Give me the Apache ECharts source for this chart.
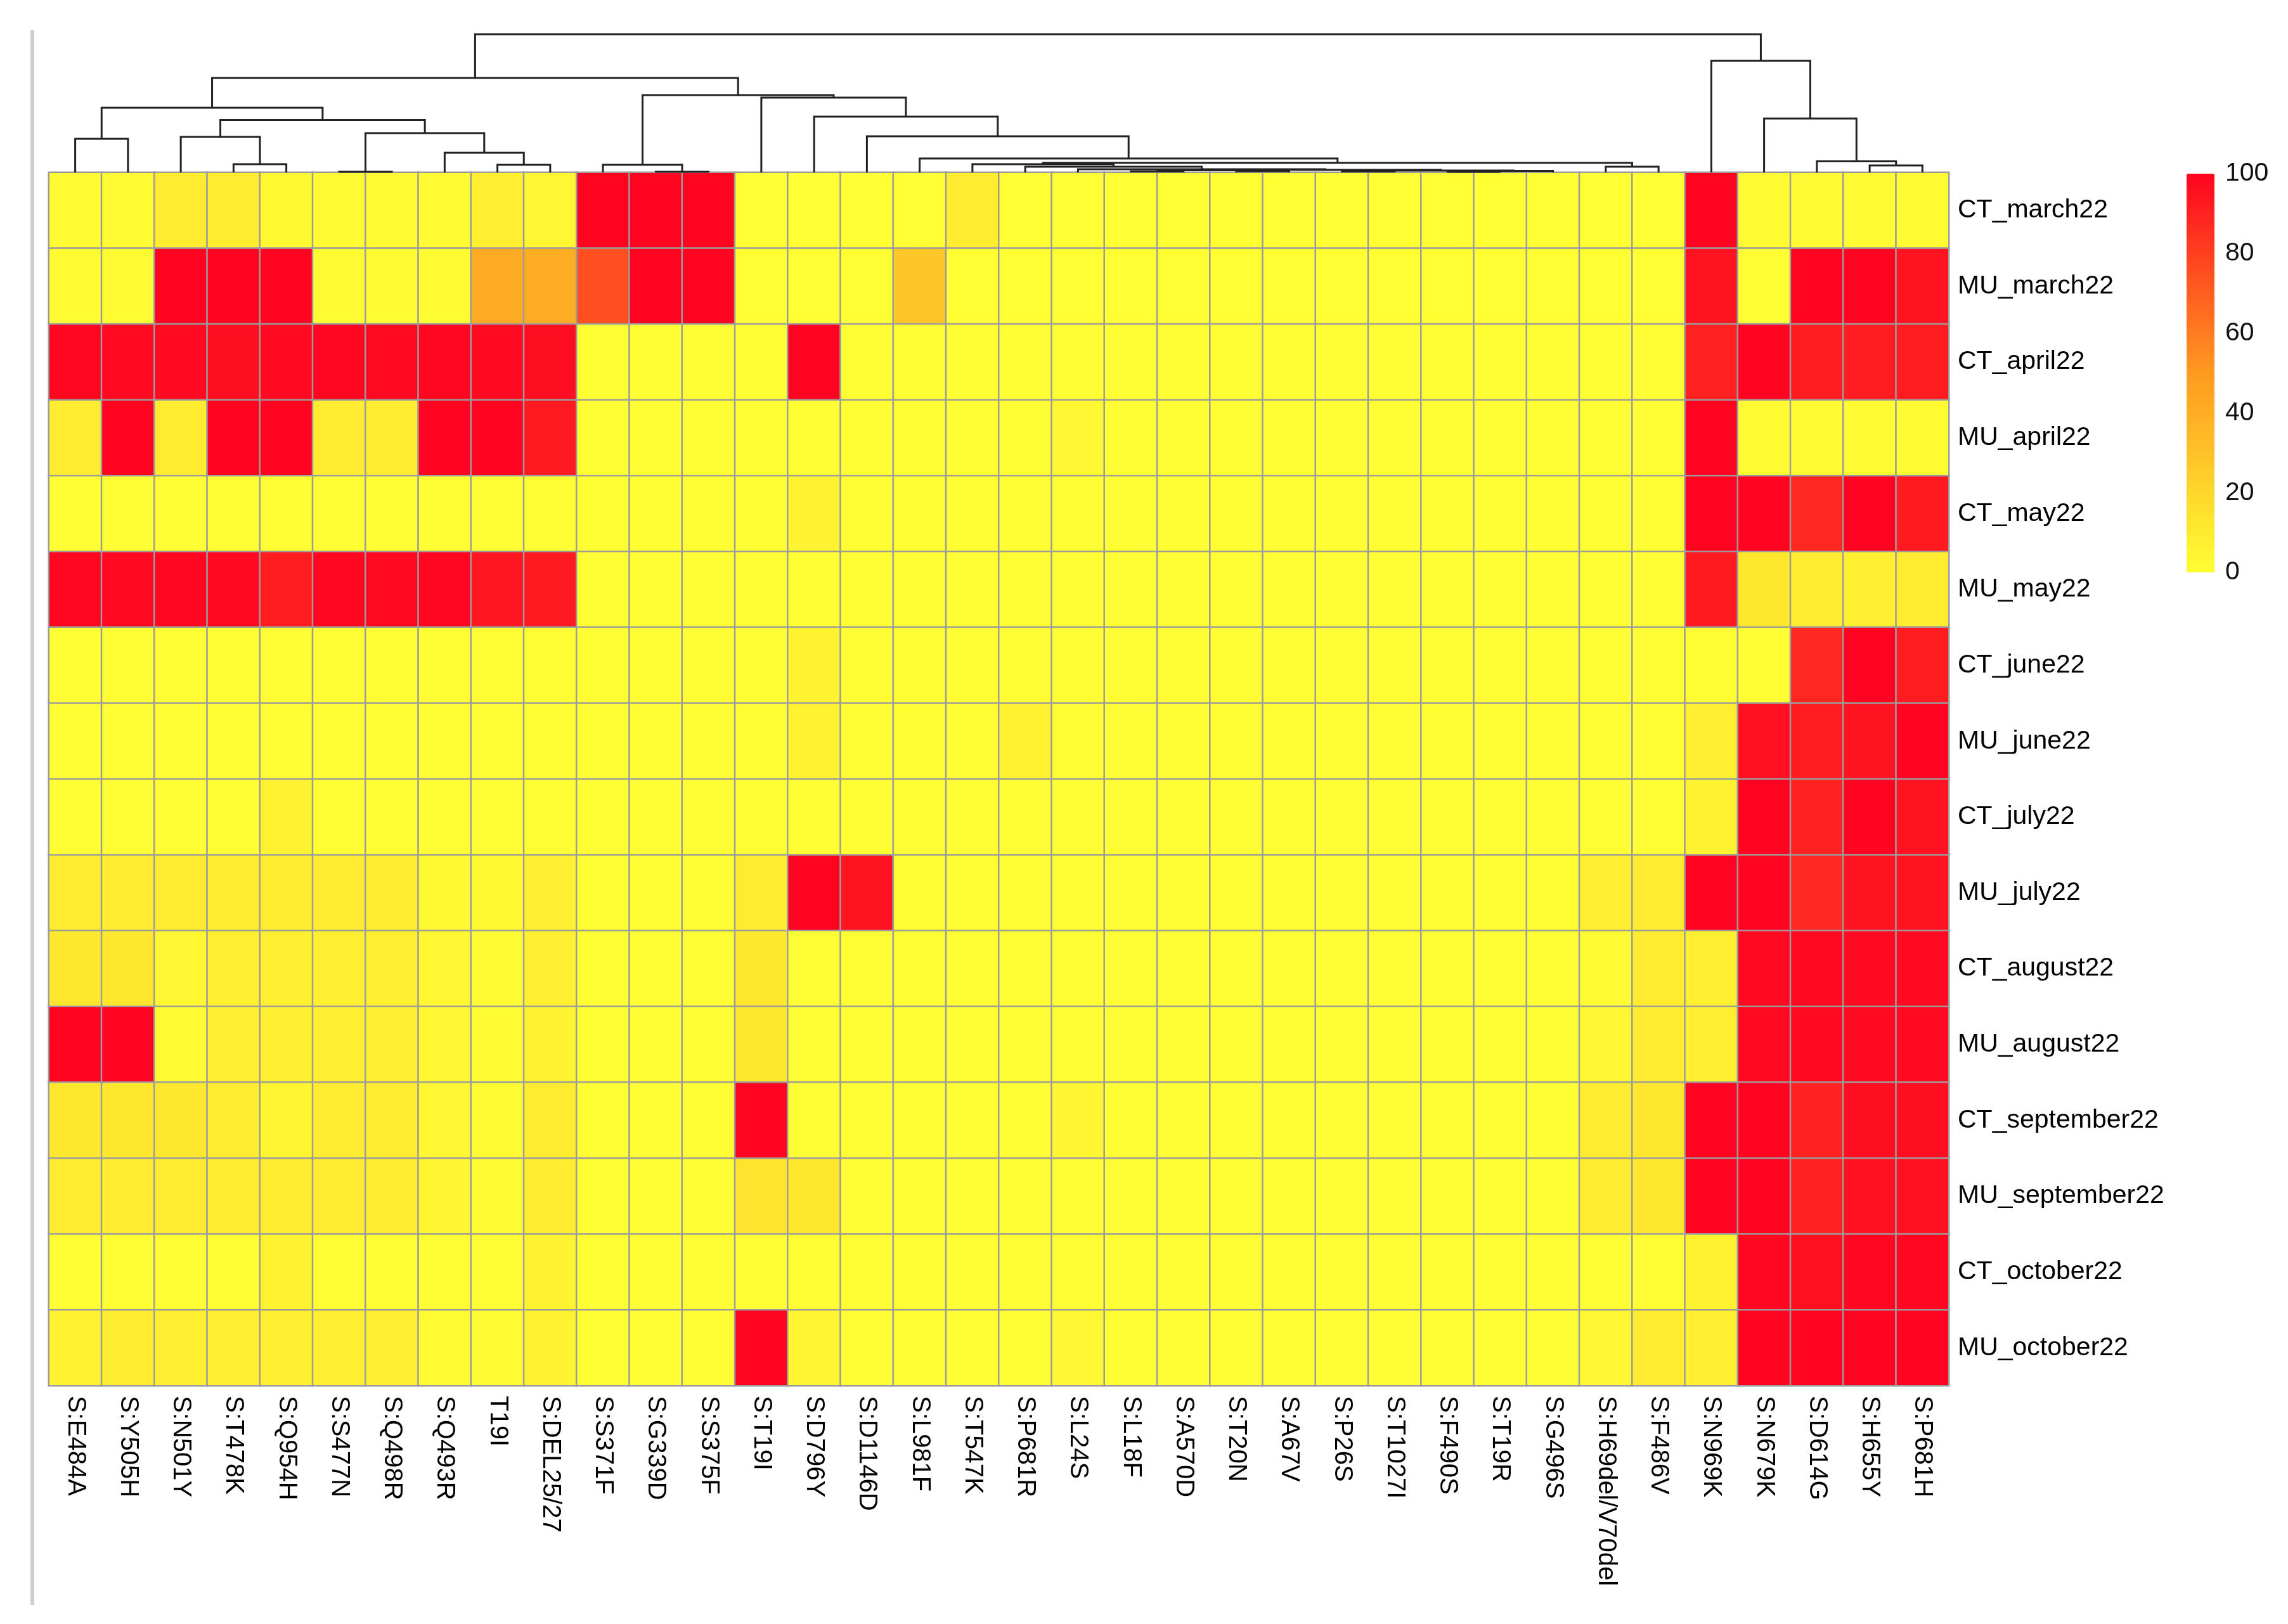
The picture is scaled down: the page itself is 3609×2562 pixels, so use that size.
<!DOCTYPE html>
<html>
<head>
<meta charset="utf-8">
<title>Spike mutation heatmap</title>
<script src="https://cdn.jsdelivr.net/npm/echarts@6.0.0/dist/echarts.min.js"></script>
<style>
  html, body { margin: 0; padding: 0; background: #fff; }
  #chart { width: 3609px; height: 2562px; }
</style>
</head>
<body>
<div id="chart"></div>
<script>
// Mutations (columns, in dendrogram order)
const mutations = [
  'S:E484A', 'S:Y505H', 'S:N501Y', 'S:T478K', 'S:Q954H', 'S:S477N', 'S:Q498R', 'S:Q493R',
  'T19I', 'S:DEL25/27', 'S:S371F', 'S:G339D', 'S:S375F', 'S:T19I', 'S:D796Y', 'S:D1146D',
  'S:L981F', 'S:T547K', 'S:P681R', 'S:L24S', 'S:L18F', 'S:A570D', 'S:T20N', 'S:A67V',
  'S:P26S', 'S:T1027I', 'S:F490S', 'S:T19R', 'S:G496S', 'S:H69del/V70del', 'S:F486V',
  'S:N969K', 'S:N679K', 'S:D614G', 'S:H655Y', 'S:P681H'
];

// Samples (rows, top to bottom)
const samples = [
  'CT_march22', 'MU_march22', 'CT_april22', 'MU_april22', 'CT_may22', 'MU_may22',
  'CT_june22', 'MU_june22', 'CT_july22', 'MU_july22', 'CT_august22', 'MU_august22',
  'CT_september22', 'MU_september22', 'CT_october22', 'MU_october22'
];

// Frequency (%) of each mutation per sample, one array per row
const frequencies = [
  [2, 2, 10, 10, 3, 2, 2, 2, 8, 4, 100, 100, 100, 0, 0, 0, 0, 10, 0, 0, 0, 0, 0, 0, 0, 0, 0, 0, 0, 0, 0, 100, 2, 2, 2, 2],
  [2, 2, 100, 100, 100, 2, 2, 2, 42, 40, 75, 100, 100, 0, 0, 0, 28, 0, 0, 0, 0, 0, 0, 0, 0, 0, 0, 0, 0, 0, 0, 95, 1, 100, 100, 95],
  [99, 98, 98, 97, 98, 99, 98, 99, 98, 97, 1, 1, 1, 1, 100, 1, 1, 1, 1, 1, 1, 1, 1, 1, 1, 1, 1, 1, 1, 1, 1, 90, 100, 92, 92, 92],
  [10, 100, 10, 100, 100, 10, 10, 100, 100, 93, 1, 1, 1, 1, 1, 1, 1, 1, 1, 4, 1, 1, 1, 1, 1, 1, 1, 1, 1, 1, 1, 100, 2, 2, 2, 2],
  [1, 1, 1, 1, 1, 1, 1, 1, 1, 1, 1, 1, 1, 1, 6, 1, 1, 1, 1, 1, 1, 1, 1, 1, 1, 1, 1, 1, 1, 1, 1, 100, 100, 88, 100, 93],
  [99, 98, 99, 98, 92, 99, 98, 99, 94, 93, 1, 1, 1, 1, 1, 1, 1, 1, 1, 1, 1, 1, 1, 1, 1, 1, 1, 1, 1, 1, 1, 93, 12, 10, 8, 10],
  [1, 1, 1, 1, 1, 1, 1, 1, 1, 1, 1, 1, 1, 1, 6, 1, 1, 1, 1, 1, 1, 1, 1, 1, 1, 1, 1, 1, 1, 1, 1, 1, 1, 88, 100, 92],
  [1, 1, 1, 1, 1, 1, 1, 1, 1, 1, 1, 1, 1, 1, 6, 1, 1, 1, 6, 1, 1, 1, 1, 1, 1, 1, 1, 1, 1, 1, 1, 8, 96, 92, 95, 100],
  [1, 1, 1, 1, 6, 1, 1, 1, 1, 1, 1, 1, 1, 1, 1, 1, 1, 1, 1, 1, 1, 1, 1, 1, 1, 1, 1, 1, 1, 1, 1, 6, 100, 90, 100, 95],
  [10, 10, 10, 10, 10, 10, 10, 3, 3, 8, 1, 1, 1, 10, 100, 95, 1, 1, 1, 1, 1, 1, 1, 1, 1, 1, 1, 1, 1, 8, 10, 100, 100, 88, 95, 95],
  [12, 12, 4, 8, 8, 8, 8, 4, 2, 8, 1, 1, 1, 12, 1, 1, 1, 1, 1, 1, 1, 1, 1, 1, 1, 1, 1, 1, 1, 2, 10, 8, 98, 98, 98, 98],
  [100, 100, 2, 8, 8, 8, 8, 4, 2, 6, 1, 1, 1, 12, 1, 1, 1, 1, 1, 1, 1, 1, 1, 1, 1, 1, 1, 1, 1, 4, 10, 8, 98, 98, 98, 98],
  [12, 12, 12, 10, 5, 10, 10, 4, 2, 10, 1, 1, 1, 100, 1, 1, 1, 1, 1, 5, 1, 1, 1, 1, 1, 1, 1, 1, 1, 10, 12, 100, 100, 90, 97, 97],
  [10, 10, 10, 10, 10, 10, 10, 5, 2, 10, 1, 1, 1, 14, 12, 1, 1, 1, 1, 1, 1, 1, 1, 1, 1, 1, 1, 1, 1, 10, 12, 100, 100, 90, 96, 96],
  [1, 1, 1, 1, 6, 1, 1, 1, 1, 6, 1, 1, 1, 1, 1, 1, 1, 1, 1, 1, 1, 1, 1, 1, 1, 1, 1, 1, 1, 1, 1, 6, 99, 96, 99, 99],
  [6, 10, 8, 8, 8, 8, 8, 2, 2, 6, 1, 1, 1, 100, 5, 1, 1, 1, 1, 4, 1, 1, 1, 1, 1, 1, 1, 1, 1, 4, 10, 8, 100, 100, 100, 100]
];

// Column dendrogram merges: [node id, left child, right child, height]
// numbers are column indices (leaves), strings are earlier nodes
const merges = [
  ['A', 0, 1, 53],
  ['B', 3, 4, 13],
  ['C', 2, 'B', 56],
  ['D', 5, 6, 1],
  ['E', 8, 9, 12],
  ['F', 7, 'E', 31],
  ['G', 'D', 'F', 62],
  ['H', 'C', 'G', 82.6],
  ['I', 'A', 'H', 102],
  ['J1', 11, 12, 1],
  ['J', 10, 'J1', 12],
  ['Za', 20, 21, 1.5],
  ['Zb', 22, 23, 2],
  ['Zc', 26, 27, 1],
  ['Zd', 'Zc', 28, 2.5],
  ['Ze', 24, 25, 1.5],
  ['Zf', 'Ze', 'Zd', 3],
  ['Zg', 'Za', 'Zb', 3.5],
  ['Z2', 'Zg', 'Zf', 4],
  ['Z', 19, 'Z2', 5],
  ['Y', 18, 'Z', 9],
  ['W', 17, 'Y', 13],
  ['V', 29, 30, 9],
  ['U', 'W', 'V', 15],
  ['O', 16, 'U', 22],
  ['N', 15, 'O', 57],
  ['M', 14, 'N', 88],
  ['L', 13, 'M', 118],
  ['K', 'J', 'L', 122],
  ['P', 'I', 'K', 149],
  ['T', 34, 35, 11],
  ['S', 33, 'T', 17.5],
  ['R', 32, 'S', 85],
  ['Q', 31, 'R', 176],
  ['root', 'P', 'Q', 218]
];

const colorTicks = [0, 20, 40, 60, 80, 100];

// heatmap cells
const cells = [];
frequencies.forEach((row, r) => {
  row.forEach((v, c) => cells.push([c, r, v]));
});

// dendrogram segments, positions come from the axes
const nodePos = {};
function pos(ref) {
  return typeof ref === 'number' ? [ref, 0] : nodePos[ref];
}
const dendroLines = merges.map(([id, l, r, h]) => {
  const pl = pos(l), pr = pos(r);
  nodePos[id] = [(pl[0] + pr[0]) / 2, h];
  return { coords: [[pl[0], pl[1]], [pl[0], h], [pr[0], h], [pr[0], pr[1]]] };
});

const FONT = '"Liberation Sans", Arial, sans-serif';
const gridLeft = 77, gridRight = 535, gridTop = 272, gridBottom = 376;

const chart = echarts.init(document.getElementById('chart'), null, { renderer: 'canvas' });
chart.setOption({
  animation: false,
  backgroundColor: '#ffffff',
  textStyle: { fontFamily: FONT },
  grid: [
    { left: gridLeft, right: gridRight, top: gridTop, bottom: gridBottom },
    { left: gridLeft, right: gridRight, top: 50, bottom: 2562 - gridTop },
    { left: 3449, top: 274, width: 44, height: 629 }
  ],
  xAxis: [
    {
      type: 'category', data: mutations, gridIndex: 0, position: 'bottom',
      axisLine: { show: false }, axisTick: { show: false }, splitLine: { show: false },
      axisLabel: { rotate: -90, fontSize: 40, margin: 16, color: '#000', fontFamily: FONT, interval: 0 }
    },
    { type: 'value', gridIndex: 1, min: -0.5, max: 35.5, show: false },
    { type: 'value', gridIndex: 2, min: 0, max: 1, show: false }
  ],
  yAxis: [
    {
      type: 'category', data: samples, gridIndex: 0, inverse: true, position: 'right',
      axisLine: { show: false }, axisTick: { show: false }, splitLine: { show: false },
      axisLabel: { fontSize: 41, margin: 14, color: '#000', fontFamily: FONT, interval: 0 }
    },
    { type: 'value', gridIndex: 1, min: 0, max: 222, show: false },
    {
      type: 'value', gridIndex: 2, min: 0, max: 100, interval: 20, position: 'right',
      axisLine: { show: false }, axisTick: { show: false }, splitLine: { show: false },
      axisLabel: { fontSize: 41, margin: 17, color: '#111', fontFamily: FONT }
    }
  ],
  visualMap: {
    type: 'continuous',
    min: 0, max: 100,
    seriesIndex: 0,
    calculable: false,
    hoverLink: false,
    left: 3449, top: 274,
    itemWidth: 44, itemHeight: 629,
    padding: 0,
    inRange: { color: ['#ffff33', '#ff9a20', '#ff0420'] }
  },
  series: [
    {
      type: 'heatmap',
      xAxisIndex: 0, yAxisIndex: 0,
      data: cells,
      itemStyle: { borderColor: '#9c9c9c', borderWidth: 2.5 },
      emphasis: { disabled: true }
    },
    {
      type: 'lines',
      coordinateSystem: 'cartesian2d',
      xAxisIndex: 1, yAxisIndex: 1,
      polyline: true,
      silent: true,
      lineStyle: { color: '#222', width: 3, opacity: 1 },
      data: dendroLines
    }
  ],
  graphic: [
    {
      type: 'line',
      shape: { x1: 51, y1: 47, x2: 51, y2: 2532 },
      style: { stroke: '#cfcfcf', lineWidth: 6 },
      silent: true
    }
  ]
});
</script>
</body>
</html>
